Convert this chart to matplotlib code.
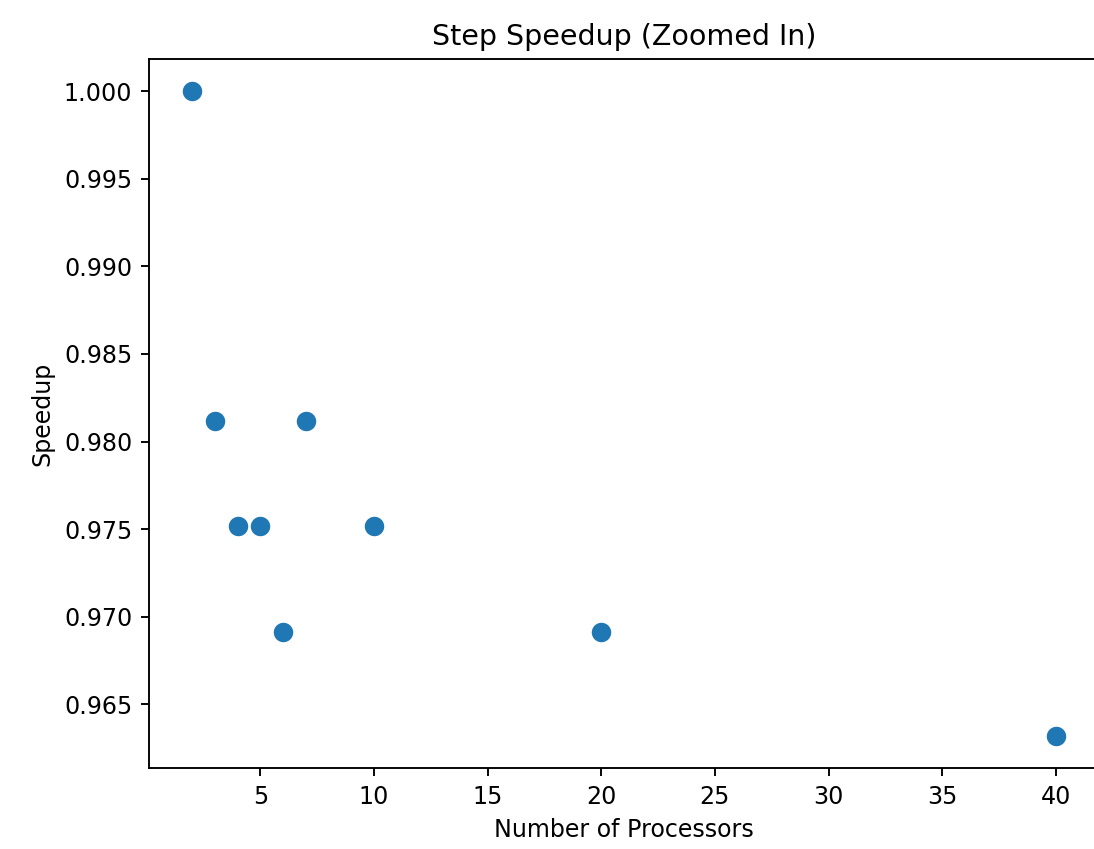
import numpy as np
import matplotlib
matplotlib.use("Agg")
import matplotlib.pyplot as plt

processors = [2, 3, 4, 5, 6, 7, 10, 20, 40]
speedup = [1.000, 0.9812, 0.9752, 0.9752, 0.9691, 0.9812, 0.9752, 0.9691, 0.9632]

dpi = 171
fig = plt.figure(figsize=(1094 / dpi, 849 / dpi), dpi=dpi)
# axes run a bit past the right edge, as in the cropped original
ax = fig.add_axes([149 / 1094, 1 - 768 / 849, (1099 - 149) / 1094, (768 - 59) / 849])

ax.scatter(processors, speedup, s=80, color="#1f77b4", edgecolor="white", linewidth=0.75)
ax.set_xlabel("Number of Processors")
ax.set_ylabel("Speedup")
ax.set_title("Step Speedup (Zoomed In)")
ax.set_xticks([5, 10, 15, 20, 25, 30, 35, 40])
ax.set_yticks(np.arange(0.965, 1.0001, 0.005))
ax.yaxis.set_major_formatter(matplotlib.ticker.FormatStrFormatter("%.3f"))
ax.spines["right"].set_visible(False)  # off-canvas in the original

fig.savefig("out.png", dpi=dpi)
